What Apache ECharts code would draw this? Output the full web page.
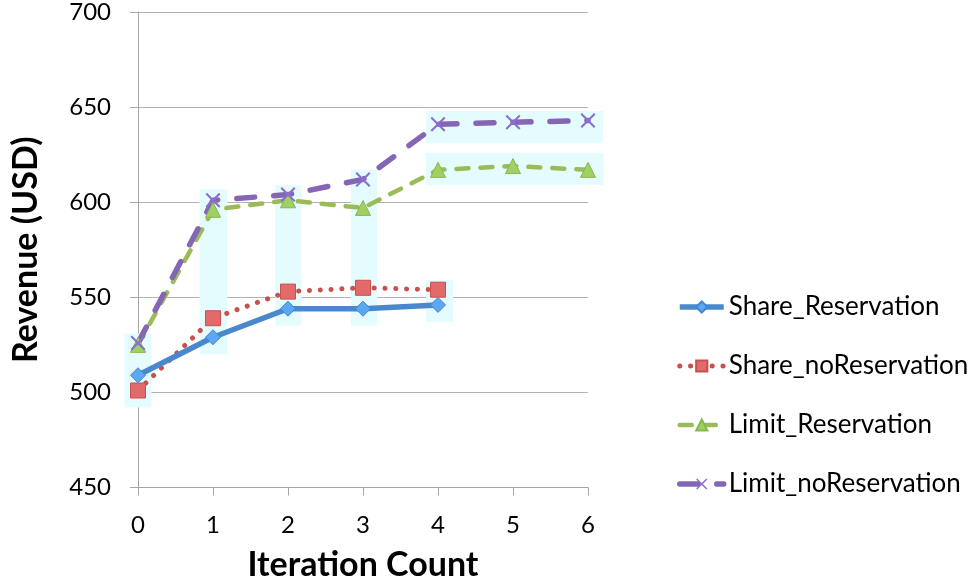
<!DOCTYPE html>
<html>
<head>
<meta charset="utf-8">
<script src="https://cdn.jsdelivr.net/npm/echarts@6/dist/echarts.min.js"></script>
<style>html,body{margin:0;padding:0;background:#fff}#c{width:972px;height:588px}</style>
</head>
<body>
<div id="c"></div>
<script>
var iterations = [0, 1, 2, 3, 4, 5, 6];
var shareReservation = [509, 529, 544, 544, 546];
var shareNoReservation = [501, 539, 553, 555, 554];
var limitReservation = [525, 596, 601, 597, 617, 619, 617];
var limitNoReservation = [526, 601, 604, 612, 641, 642, 643];
var yTicks = [450, 500, 550, 600, 650, 700];
var xTicks = [0, 1, 2, 3, 4, 5, 6];
// highlight boxes in data units: [xFrom, xTo] and [yFrom, yTo]
var highlightX = [[-0.18, 0.18], [0.82, 1.19], [1.83, 2.18], [2.84, 3.19], [3.84, 4.2], [3.84, 6.2], [3.84, 6.21]];
var highlightY = [[492, 531], [520, 607], [535, 609], [535, 617], [537, 559], [631, 648], [609, 626]];

function pairs(vals) {
  return vals.map(function (v, i) { return [iterations[i], v]; });
}
var boxes = highlightX.map(function (hx, i) {
  return [hx[0], hx[1], highlightY[i][0], highlightY[i][1]];
});

var FONT = 'Lato';
var chart = echarts.init(document.getElementById('c'));
var xShape = 'path://M0,1 L1,0 L5,4 L9,0 L10,1 L6,5 L10,9 L9,10 L5,6 L1,10 L0,9 L4,5 Z';

chart.setOption({
  animation: false,
  textStyle: { fontFamily: FONT },
  grid: { left: 138, right: 384, top: 12, bottom: 100.5, containLabel: false },
  xAxis: {
    type: 'value', min: 0, max: 6, interval: 1,
    name: 'Iteration Count', nameLocation: 'middle', nameGap: 61,
    nameTextStyle: { fontFamily: FONT, fontSize: 34, fontWeight: 'bold', color: '#000' },
    axisLine: { show: true, lineStyle: { color: '#a6a6a6', width: 1 } },
    axisTick: { show: true, length: 8, lineStyle: { color: '#a6a6a6' } },
    axisLabel: { fontFamily: FONT, fontSize: 24, color: '#000', margin: 26,
      formatter: function (v) { return xTicks.indexOf(v) >= 0 ? String(v) : ''; } },
    splitLine: { show: false }
  },
  yAxis: {
    type: 'value', min: 450, max: 700, interval: 50,
    name: 'Revenue (USD)', nameLocation: 'middle', nameGap: 95,
    nameTextStyle: { fontFamily: FONT, fontSize: 34, fontWeight: 'bold', color: '#000' },
    axisLine: { show: true, lineStyle: { color: '#a6a6a6', width: 1 } },
    axisTick: { show: true, length: 8, lineStyle: { color: '#a6a6a6' } },
    axisLabel: { fontFamily: FONT, fontSize: 24, color: '#000', margin: 27,
      formatter: function (v) { return yTicks.indexOf(v) >= 0 ? String(v) : ''; } },
    splitLine: { show: true, lineStyle: { color: '#b3b3b3', width: 1 } }
  },
  legend: {
    orient: 'vertical', left: 672, top: 289, itemGap: 33,
    itemWidth: 44, itemHeight: 14,
    lineStyle: { width: 'inherit' },
    data: ['Share_Reservation', 'Share_noReservation', 'Limit_Reservation', 'Limit_noReservation'],
    textStyle: { fontFamily: FONT, fontSize: 26, color: '#000' }
  },
  series: [
    {
      name: 'highlights', type: 'custom', z: 1, silent: true, clip: false,
      encode: { x: [0, 1], y: [2, 3] },
      data: boxes,
      renderItem: function (params, api) {
        var p1 = api.coord([api.value(0), api.value(3)]);
        var p2 = api.coord([api.value(1), api.value(2)]);
        return {
          type: 'rect',
          shape: { x: p1[0], y: p1[1], width: p2[0] - p1[0], height: p2[1] - p1[1] },
          style: { fill: '#e4fcfe' }
        };
      }
    },
    {
      name: 'Share_Reservation', type: 'line', data: pairs(shareReservation), z: 5,
      symbol: 'diamond', symbolSize: [15, 15],
      lineStyle: { color: '#4a88cc', width: 5.5 },
      itemStyle: { color: '#5ba7f0', borderColor: '#3f86d6', borderWidth: 1 }
    },
    {
      name: 'Share_noReservation', type: 'line', data: pairs(shareNoReservation), z: 4,
      symbol: 'rect', symbolSize: 15,
      lineStyle: { color: '#c8504d', width: 5, type: [0.1, 10.7], cap: 'round' },
      itemStyle: { color: '#e36a6a', borderColor: '#c8504d', borderWidth: 1 }
    },
    {
      name: 'Limit_Reservation', type: 'line', data: pairs(limitReservation), z: 3,
      symbol: 'triangle', symbolSize: 15,
      lineStyle: { color: '#9bbb59', width: 4.5, type: [12, 12], cap: 'round' },
      itemStyle: { color: '#9fd062', borderColor: '#8ab650', borderWidth: 1 }
    },
    {
      name: 'Limit_noReservation', type: 'line', data: pairs(limitNoReservation), z: 3,
      symbol: xShape, symbolSize: 15,
      lineStyle: { color: '#8466b4', width: 5.5, type: [18, 19], cap: 'round' },
      itemStyle: { color: '#8a6fd0' }
    }
  ]
});
</script>
</body>
</html>
